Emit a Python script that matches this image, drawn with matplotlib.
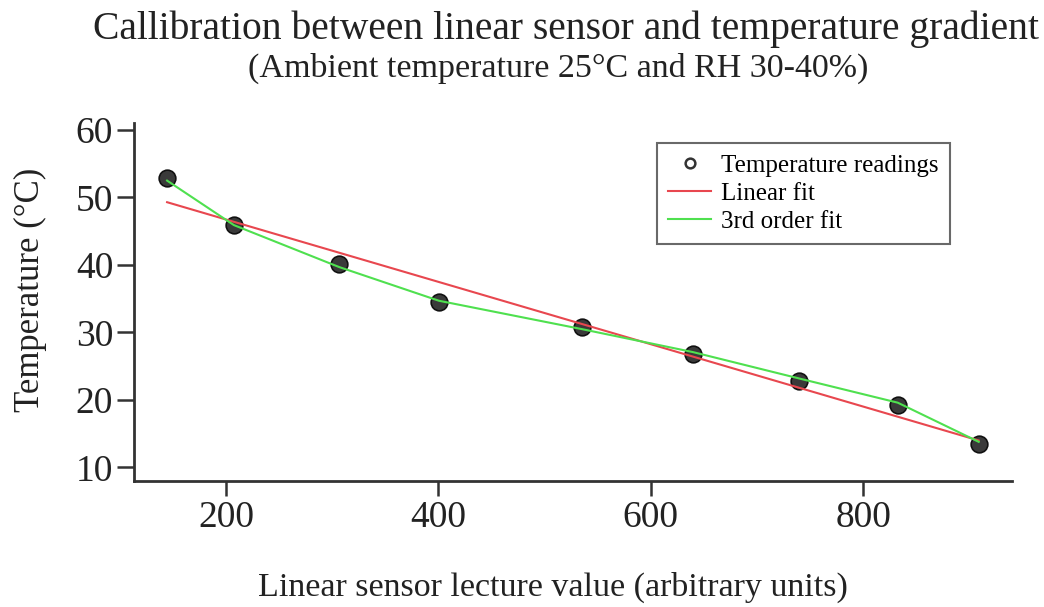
import matplotlib
matplotlib.use('Agg')
import matplotlib.pyplot as plt
from matplotlib.lines import Line2D

plt.rcParams['font.family'] = ['Liberation Serif', 'DejaVu Serif']

# readings
sensor = [144.5, 207.5, 306.4, 400.5, 535.0, 639.5, 739.3, 832.5, 908.7]
temperature = [52.9, 45.9, 40.1, 34.5, 30.8, 26.8, 22.8, 19.3, 13.5]

# fitted curves as drawn in the reference
linear_x = [144.5, 908.7]
linear_y = [49.3, 14.0]
cubic_y = [52.5, 45.9, 39.7, 34.7, 30.5, 27.1, 23.2, 19.6, 13.8]

x_ticks = [200, 400, 600, 800]
y_ticks = [10, 20, 30, 40, 50, 60]

dark = '#333333'
text_col = '#222222'

fig = plt.figure(figsize=(10.44, 6.07), dpi=100)
ax = fig.add_axes([0.1284, 0.2076, 0.8409, 0.5894])

ax.plot(sensor, temperature, 'o', ms=12, mfc='#3a3a3a', mec='#111111',
        mew=1.2, zorder=2)
ax.plot(linear_x, linear_y, color='#e8474f', lw=1.5, zorder=3)
ax.plot(sensor, cubic_y, color='#4fe04f', lw=1.5, zorder=4)

ax.set_xlim(113.4, 940)
ax.set_ylim(8, 61)
ax.set_xticks(x_ticks)
ax.set_yticks(y_ticks)

for side in ['top', 'right']:
    ax.spines[side].set_visible(False)
for side in ['left', 'bottom']:
    ax.spines[side].set_color(dark)
    ax.spines[side].set_linewidth(2)
ax.tick_params(axis='both', colors=dark, labelcolor=text_col, width=1.8,
               labelsize=27)
ax.tick_params(axis='x', length=11, pad=3)
ax.tick_params(axis='y', length=12, pad=3)

ax.set_xlabel('Linear sensor lecture value (arbitrary units)', fontsize=24.5,
              color=text_col)
ax.xaxis.set_label_coords(0.477, -0.255)
ax.set_ylabel('Temperature (°C)', fontsize=25, color=text_col)
ax.yaxis.set_label_coords(-0.099, 0.534)

fig.text(0.542, 0.936, 'Callibration between linear sensor and temperature gradient',
         ha='center', fontsize=28.5, color=text_col)
fig.text(0.535, 0.874, '(Ambient temperature 25°C and RH 30-40%)',
         ha='center', fontsize=24.5, color=text_col)

handles = [
    Line2D([], [], ls='none', marker='o', ms=7, mfc='white', mec='#333333', mew=1.8),
    Line2D([], [], color='#e8474f', lw=1.5),
    Line2D([], [], color='#4fe04f', lw=1.5),
]
labels = ['Temperature readings', 'Linear fit', '3rd order fit']
leg = ax.legend(handles, labels, loc='upper left',
                bbox_to_anchor=(657 / 1044, 1 - 143 / 607),
                bbox_transform=fig.transFigure, fontsize=18, frameon=True,
                fancybox=False, handlelength=1.7, handletextpad=0.4,
                labelspacing=0.22, borderpad=0.45, borderaxespad=0)
leg.get_frame().set_edgecolor('#444444')
leg.get_frame().set_linewidth(1.5)

fig.savefig('out.png', dpi=100)
